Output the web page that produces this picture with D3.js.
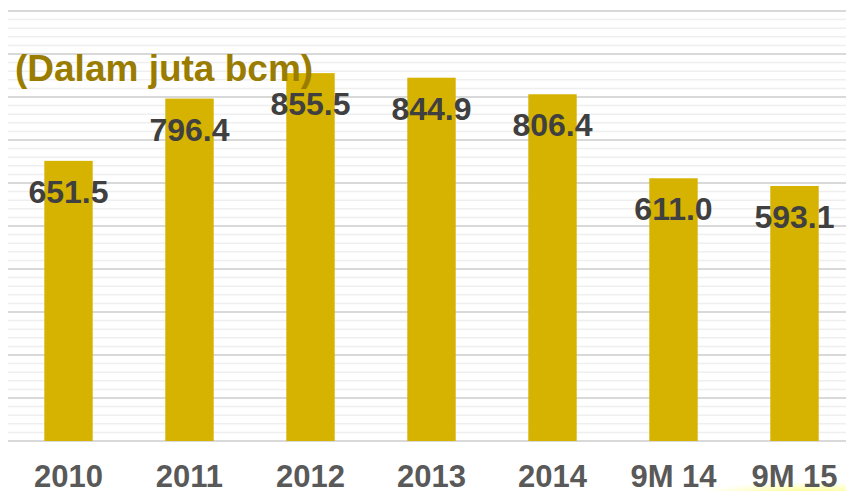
<!DOCTYPE html>
<html lang="id">
<head>
  <meta charset="UTF-8">
  <title>Dalam juta bcm</title>
  <script src="https://d3js.org/d3.v7.min.js"></script>
  <style>
    body { margin: 0; background: #fff; }
    text { font-family: "Liberation Sans", Arial, sans-serif; font-weight: bold; }
  </style>
</head>
<body>
  <svg width="846" height="491"></svg>

  <script>
    var categories = ["2010", "2011", "2012", "2013", "2014", "9M 14", "9M 15"];
    var values = [651.5, 796.4, 855.5, 844.9, 806.4, 611.0, 593.1];
    var majorTicks = d3.range(0, 1001, 100);
    var minorTicks = d3.range(0, 1001, 20).filter(function(v) { return v % 100 !== 0; });

    var svg = d3.select("svg");

    var x = d3.scaleBand()
        .domain(categories)
        .range([8, 855])
        .paddingInner(0.6)
        .paddingOuter(0.3);

    var y = d3.scaleLinear()
        .domain([0, 1000])
        .range([441, 11]);

    // glow at bottom right
    var defs = svg.append("defs");
    var grad = defs.append("radialGradient").attr("id", "glow");
    grad.append("stop").attr("offset", "0%").attr("stop-color", "#ffff60").attr("stop-opacity", 0.8);
    grad.append("stop").attr("offset", "100%").attr("stop-color", "#ffff60").attr("stop-opacity", 0);
    svg.append("ellipse")
        .attr("cx", 810).attr("cy", 494)
        .attr("rx", 110).attr("ry", 12)
        .attr("fill", "url(#glow)");

    // minor grid
    svg.append("g").selectAll("line")
        .data(minorTicks)
        .enter().append("line")
        .attr("x1", 8).attr("x2", 846)
        .attr("y1", function(d) { return y(d); })
        .attr("y2", function(d) { return y(d); })
        .attr("stroke", "#efefef")
        .attr("stroke-width", 1.5);

    // major grid
    svg.append("g").selectAll("line")
        .data(majorTicks)
        .enter().append("line")
        .attr("x1", 8).attr("x2", 846)
        .attr("y1", function(d) { return y(d); })
        .attr("y2", function(d) { return y(d); })
        .attr("stroke", "#d9d9d9")
        .attr("stroke-width", 2);

    svg.append("g").selectAll("rect")
        .data(values)
        .enter().append("rect")
        .attr("x", function(d, i) { return x(categories[i]); })
        .attr("width", x.bandwidth())
        .attr("y", function(d) { return y(d); })
        .attr("height", function(d) { return y(0) - y(d); })
        .attr("fill", "#d6b300");

    svg.append("g").selectAll("text")
        .data(values)
        .enter().append("text")
        .attr("x", function(d, i) { return x(categories[i]) + x.bandwidth() / 2; })
        .attr("y", function(d) { return y(d) + 42; })
        .attr("text-anchor", "middle")
        .attr("fill", "#404040")
        .style("font-size", "32px")
        .text(function(d) { return d.toFixed(1); });

    svg.append("g").selectAll("text")
        .data(categories)
        .enter().append("text")
        .attr("x", function(d) { return x(d) + x.bandwidth() / 2; })
        .attr("y", 487)
        .attr("text-anchor", "middle")
        .attr("fill", "#595959")
        .style("font-size", "31px")
        .text(function(d) { return d; });

    svg.append("text")
        .attr("x", 15)
        .attr("y", 81)
        .attr("fill", "#9a7d00")
        .style("font-size", "37px")
        .text("(Dalam juta bcm)");
  </script>
</body>
</html>
